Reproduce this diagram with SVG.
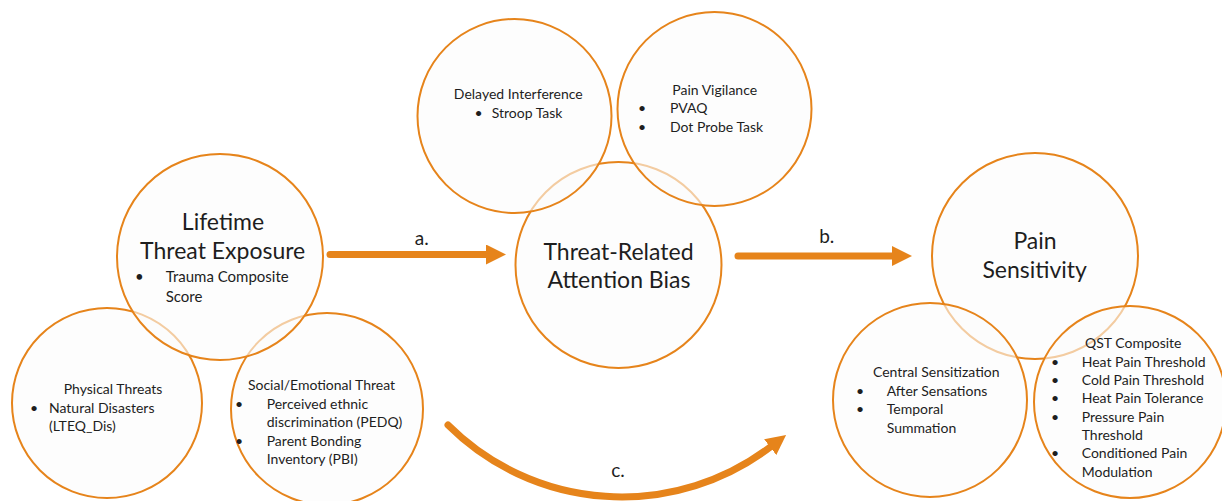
<svg xmlns="http://www.w3.org/2000/svg" width="1222" height="501" viewBox="0 0 1222 501">
  <defs>
    <marker id="head" markerUnits="userSpaceOnUse" markerWidth="20" markerHeight="20" viewBox="0 0 20 20" refX="1" refY="10" orient="auto">
      <path d="M0,0 L20,10 L0,20 z" fill="#e6841b"/>
    </marker>
  </defs>
  <style>
    .ring{fill:#fbfbfb;fill-opacity:.6;stroke:#e6841b;stroke-width:2}
    .t{font-family:Lato,"Liberation Sans",sans-serif;fill:#1e1e1e}
    .big{font-size:23px;text-anchor:middle}
    .sm{font-size:14px}
    .md{font-size:15px}
    .mid{text-anchor:middle}
    .lbl{font-size:19px;text-anchor:middle}
    .arrow{fill:none;stroke:#e6841b;stroke-width:7;stroke-linecap:round;marker-end:url(#head)}
  </style>
  <rect width="1222" height="501" fill="#ffffff"/>

  <!-- exposure cluster -->
  <g id="physical-threats">
    <circle class="ring" cx="107" cy="403" r="95"/>
    <text class="t sm mid" x="113" y="394">Physical Threats</text>
    <text class="t sm" x="30" y="413">•</text>
    <text class="t sm" x="49" y="413">Natural Disasters</text>
    <text class="t sm" x="49" y="431">(LTEQ_Dis)</text>
  </g>
  <g id="social-emotional-threat">
    <circle class="ring" cx="327" cy="409" r="96"/>
    <text class="t sm mid" x="321.5" y="390">Social/Emotional Threat</text>
    <text class="t sm" x="235" y="409">•</text>
    <text class="t sm" x="266.7" y="409">Perceived ethnic</text>
    <text class="t sm" x="266.7" y="427">discrimination (PEDQ)</text>
    <text class="t sm" x="235" y="445.7">•</text>
    <text class="t sm" x="266.7" y="445.7">Parent Bonding</text>
    <text class="t sm" x="266.7" y="463.5">Inventory (PBI)</text>
  </g>
  <g id="lifetime-threat-exposure">
    <circle class="ring" cx="220" cy="257" r="103"/>
    <text class="t big" x="223" y="230">Lifetime</text>
    <text class="t big" x="222.7" y="259">Threat Exposure</text>
    <text class="t md" x="135" y="281.7">•</text>
    <text class="t md" x="165.7" y="281.7">Trauma Composite</text>
    <text class="t md" x="165.7" y="301.7">Score</text>
  </g>

  <!-- attention cluster -->
  <g id="threat-related-attention-bias">
    <circle class="ring" cx="618.5" cy="265" r="103"/>
    <text class="t big" x="618.5" y="260">Threat-Related</text>
    <text class="t big" x="619" y="288.3">Attention Bias</text>
  </g>
  <g id="delayed-interference">
    <circle class="ring" cx="514.5" cy="116" r="97"/>
    <text class="t sm mid" x="518.3" y="99.3">Delayed Interference</text>
    <text class="t sm" x="474.5" y="117.7">•</text>
    <text class="t sm" x="491.7" y="117.7">Stroop Task</text>
  </g>
  <g id="pain-vigilance">
    <circle class="ring" cx="714.5" cy="109" r="97"/>
    <text class="t sm mid" x="714.7" y="95">Pain Vigilance</text>
    <text class="t sm" x="638" y="113.3">•</text>
    <text class="t sm" x="670" y="113.3">PVAQ</text>
    <text class="t sm" x="638" y="131.7">•</text>
    <text class="t sm" x="670" y="131.7">Dot Probe Task</text>
  </g>

  <!-- pain cluster -->
  <g id="pain-sensitivity">
    <circle class="ring" cx="1035" cy="256" r="103"/>
    <text class="t big" x="1035" y="249">Pain</text>
    <text class="t big" x="1034.7" y="277.7">Sensitivity</text>
  </g>
  <g id="central-sensitization">
    <circle class="ring" cx="930" cy="400" r="97"/>
    <text class="t sm mid" x="936.3" y="376.7">Central Sensitization</text>
    <text class="t sm" x="856" y="395.7">•</text>
    <text class="t sm" x="886.7" y="395.7">After Sensations</text>
    <text class="t sm" x="856" y="414">•</text>
    <text class="t sm" x="886.7" y="414">Temporal</text>
    <text class="t sm" x="886.7" y="432.7">Summation</text>
  </g>
  <g id="qst-composite">
    <circle class="ring" cx="1130" cy="402" r="96"/>
    <text class="t sm" x="1085" y="348.3">QST Composite</text>
    <text class="t sm" x="1051" y="366.7">•</text>
    <text class="t sm" x="1081.7" y="366.7">Heat Pain Threshold</text>
    <text class="t sm" x="1051" y="385">•</text>
    <text class="t sm" x="1081.7" y="385">Cold Pain Threshold</text>
    <text class="t sm" x="1051" y="403.3">•</text>
    <text class="t sm" x="1081.7" y="403.3">Heat Pain Tolerance</text>
    <text class="t sm" x="1051" y="421.7">•</text>
    <text class="t sm" x="1081.7" y="421.7">Pressure Pain</text>
    <text class="t sm" x="1081.7" y="440">Threshold</text>
    <text class="t sm" x="1051" y="458.3">•</text>
    <text class="t sm" x="1081.7" y="458.3">Conditioned Pain</text>
    <text class="t sm" x="1081.7" y="476.7">Modulation</text>
  </g>

  <!-- paths a, b, c -->
  <g id="connectors">
    <line class="arrow" x1="330" y1="254.5" x2="487" y2="254.5"/>
    <line class="arrow" x1="738" y1="256" x2="893" y2="256"/>
    <path class="arrow" d="M448,425 A246,246 0 0 0 771,446.5"/>
    <text class="t lbl" x="421.7" y="245">a.</text>
    <text class="t lbl" x="826.7" y="243.3">b.</text>
    <text class="t lbl" x="618" y="477">c.</text>
  </g>
</svg>
